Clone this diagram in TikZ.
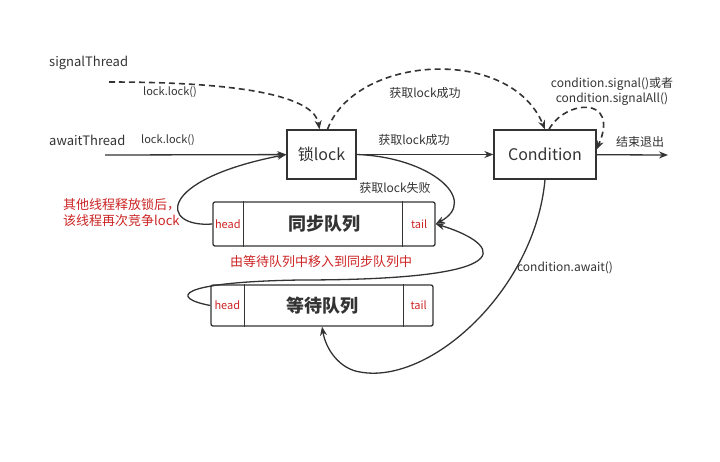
\documentclass[tikz,border=0pt]{standalone}
\usepackage{fontspec}
\setmainfont{Noto Sans CJK SC}
\usetikzlibrary{arrows.meta}
\definecolor{ink}{RGB}{51,51,51}
\definecolor{redtxt}{RGB}{204,36,36}
\begin{document}
\begin{tikzpicture}[x=1pt,y=-1pt,
 box/.style={draw=ink,line width=1.3pt,minimum width=#1,minimum height=49pt,inner sep=0pt,text=ink,font=\fontsize{16}{18}\selectfont},
 queue/.style={draw=ink,line width=1.3pt,rounded corners=2pt,minimum width=222pt,inner sep=0pt,text=ink,font=\fontsize{18}{20}\selectfont\bfseries},
 lbl/.style={text=ink,inner sep=1pt,font=\fontsize{12}{15}\selectfont},
 redlbl/.style={text=redtxt,inner sep=1pt,font=\fontsize{13}{16}\selectfont},
 tag/.style={text=redtxt,inner sep=0pt,font=\fontsize{11}{13}\selectfont},
 ln/.style={ink,line width=1.3pt,-{Stealth[length=9pt,width=7pt]}},
 dsh/.style={ln,line width=1.6pt,dash pattern=on 6pt off 4pt}]
 \useasboundingbox (0,0) rectangle (720,461);
 \node[box=69pt] (lock) at (321.5,154.5) {锁lock};
 \node[box=102pt] (cond) at (545,154.5) {Condition};
 \node[queue,minimum height=44pt] (sync) at (324,224) {同步队列};
 \node[queue,minimum height=41pt] (wait) at (322,305.5) {等待队列};
 \foreach \q/\h/\t in {sync/31/33,wait/34/30}{
 \draw[ink,line width=1.3pt] ([xshift=\h]\q.north west) -- ([xshift=\h]\q.south west);
 \draw[ink,line width=1.3pt] ([xshift=-\t]\q.north east) -- ([xshift=-\t]\q.south east);
 \node[tag] (\q-head) at ([xshift=\h/2]\q.west) {head};
 \node[tag] (\q-tail) at ([xshift=-\t/2]\q.east) {tail};}
 \node[lbl,anchor=west,font=\fontsize{13}{15}\selectfont] (sigT) at (48,63) {signalThread};
 \node[lbl,anchor=west,font=\fontsize{13}{15}\selectfont] (awT) at (48,140) {awaitThread};
 \node[lbl,font=\fontsize{11}{13}\selectfont] (sigcall) at (170,92) {lock.lock()};
 \node[lbl,font=\fontsize{11}{13}\selectfont] (awcall) at (168,140) {lock.lock()};
 \node[lbl] (okA) at (425,93) {获取lock成功};
 \node[lbl] (okB) at (414,140) {获取lock成功};
 \node[lbl,align=center] (sigall) at (612,91) {condition.signal()或者\\condition.signalAll()};
 \node[lbl] (quit) at (640,142) {结束退出};
 \node[lbl] (fail) at (395,188) {获取lock失败};
 \node[lbl] (await) at (565,268) {condition.await()};
 \node[redlbl,anchor=west,align=left] (retry) at (62,213) {其他线程释放锁后，\\该线程再次竞争lock};
 \node[redlbl] (move) at (321,262) {由等待队列中移入到同步队列中};
 \coordinate (sigA) at (109,82);
 \coordinate (awA) at (105,155);
 \coordinate (exitA) at (668,155);
 \draw[dsh] (sigA) .. controls (260,82) and (315,100) .. ([xshift=-2]lock.north);
 \draw[dsh] ([xshift=6]lock.north) .. controls (355,55) and (510,45) .. (cond.north);
 \draw[dsh] ([xshift=4]cond.north) .. controls (565,100) and (620,95) .. ([yshift=5]cond.east);
 \draw[ln] (awA) -- (lock);
 \draw[ln] (lock) -- (cond);
 \draw[ln] (cond) -- (exitA);
 \draw[ln] (lock.east) .. controls (430,157) and (480,200) .. (sync.east);
 \draw[ln] (sync.west) .. controls (160,228) and (155,180) .. (lock.west);
 \draw[ln] (wait.west) .. controls (170,298) and (175,282) .. (300,280) .. controls (545,280) and (490,240) .. (sync.east);
 \draw[ln] (cond.south) .. controls (535,290) and (430,385) .. (360,372) .. controls (340,369) and (326,350) .. (wait.south);
\end{tikzpicture}
\end{document}
